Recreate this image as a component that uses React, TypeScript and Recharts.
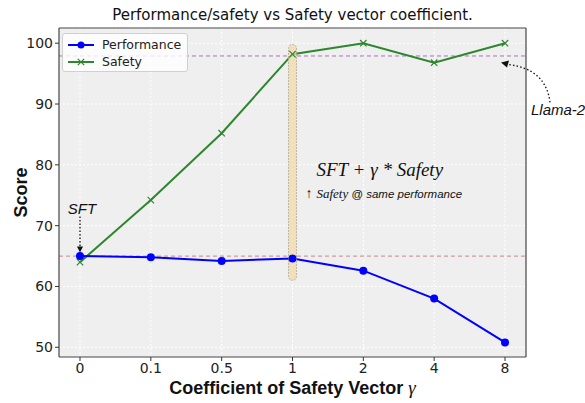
import {
  LineChart,
  Line,
  XAxis,
  YAxis,
  CartesianGrid,
  ReferenceLine,
  ReferenceDot,
} from 'recharts'

const coefficients = ['0', '0.1', '0.5', '1', '2', '4', '8']
const performance = [65.0, 64.8, 64.2, 64.6, 62.6, 58.0, 50.8]
const safety = [64.0, 74.2, 85.2, 98.2, 100.0, 96.8, 100.0]
const yTicks = [50, 60, 70, 80, 90, 100]

const sftScore = 65.0
const llamaScore = 97.9

const chartData = coefficients.map((c, i) => ({
  coef: c,
  performance: performance[i],
  safety: safety[i],
}))

const SANS = '"DejaVu Sans", sans-serif'
const HELV = '"Liberation Sans", Arial, sans-serif'
const SERIF = '"Liberation Serif", "DejaVu Serif", serif'

const XMarker = (props: any) => {
  const { cx, cy, stroke } = props
  if (cx == null || cy == null) return null
  const s = 3.2
  return (
    <g stroke={stroke} strokeWidth={1.2}>
      <line x1={cx - s} y1={cy - s} x2={cx + s} y2={cy + s} />
      <line x1={cx - s} y1={cy + s} x2={cx + s} y2={cy - s} />
    </g>
  )
}

const LegendBox = () => (
  <div
    style={{
      position: 'absolute',
      top: 33,
      left: 62,
      background: 'rgba(255,255,255,0.8)',
      border: '1px solid #d0d0d0',
      borderRadius: 3,
      padding: '2px 6px 1px 5px',
      fontFamily: SANS,
      fontSize: 12.5,
      color: '#222',
      lineHeight: '17px',
    }}
  >
    <div style={{ display: 'flex', alignItems: 'center' }}>
      <svg width={26} height={12} style={{ marginRight: 8 }}>
        <line x1={0} y1={6} x2={26} y2={6} stroke="#0000ff" strokeWidth={2} />
        <circle cx={13} cy={6} r={3.5} fill="#0000ff" />
      </svg>
      Performance
    </div>
    <div style={{ display: 'flex', alignItems: 'center' }}>
      <svg width={26} height={12} style={{ marginRight: 8 }}>
        <line x1={0} y1={6} x2={26} y2={6} stroke="#2e862e" strokeWidth={2} />
        <XMarker cx={13} cy={6} stroke="#2e862e" />
      </svg>
      Safety
    </div>
  </div>
)

const XAxisTitle = (props: any) => {
  const vb = props.viewBox || {}
  const cx = vb.x + vb.width / 2
  const y = vb.y + vb.height + 7
  return (
    <text x={cx} y={y} textAnchor="middle" fontSize={18} fill="#111">
      <tspan fontFamily={HELV} fontWeight="bold">Coefficient of Safety Vector </tspan>
      <tspan fontFamily={SERIF} fontStyle="italic" fontSize={19}>γ</tspan>
    </text>
  )
}

// shaded highlight around gamma = 1
const HighlightBar = (p: any) => {
  const top = Math.min(p.y1, p.y2)
  const h = Math.abs(p.y2 - p.y1)
  return (
    <rect
      x={p.x1 - 4}
      y={top}
      width={8}
      height={h}
      rx={4}
      fill="rgba(240,218,170,0.75)"
      stroke="#b0a898"
      strokeWidth={1}
      strokeDasharray="1.5 1.5"
    />
  )
}

const SftArrow = (p: any) => {
  const x = p.x1
  const yTop = Math.min(p.y1, p.y2)
  const yBot = Math.max(p.y1, p.y2)
  return (
    <g>
      <text x={x + 2} y={yTop - 3} textAnchor="middle" fontFamily={HELV} fontStyle="italic" fontSize={15} fill="#111">
        SFT
      </text>
      <line x1={x} y1={yTop} x2={x} y2={yBot - 5} stroke="#111" strokeWidth={1.3} strokeDasharray="1.5 2" />
      <path d={`M${x - 3},${yBot - 6} L${x + 3},${yBot - 6} L${x},${yBot} Z`} fill="#111" />
    </g>
  )
}

const LlamaArrow = (p: any) => {
  const hx = p.x1 - 4
  const hy = p.y1 + 4
  const tx = hx + 49
  const ty = hy + 40
  return (
    <g>
      <path
        d={`M${tx},${ty} Q${tx - 4},${hy + 6} ${hx + 6},${hy + 2}`}
        fill="none"
        stroke="#111"
        strokeWidth={1.3}
        strokeDasharray="1.5 2.2"
      />
      <path d={`M${hx},${hy} L${hx + 8},${hy - 2} L${hx + 6},${hy + 5} Z`} fill="#111" />
      <text x={tx - 19} y={ty + 13} fontFamily={HELV} fontStyle="italic" fontSize={15} fill="#111">
        Llama-2
      </text>
    </g>
  )
}

const FormulaNote = (p: any) => {
  const { cx, cy } = p
  return (
    <g>
      <text x={cx + 24} y={cy} fontFamily={SERIF} fontStyle="italic" fontSize={19} fill="#111">
        SFT + γ * Safety
      </text>
      <text x={cx + 13} y={cy + 22} fontSize={12} fill="#111">
        <tspan fontFamily={HELV} fontSize={14}>↑ </tspan>
        <tspan fontFamily={SERIF} fontStyle="italic" fontSize={13}>Safety</tspan>
        <tspan fontFamily={HELV} fontStyle="italic" fontSize={11.5}> @ same performance</tspan>
      </text>
    </g>
  )
}

export default function App() {
  return (
    <div style={{ position: 'absolute', left: 0, top: 0, width: 585, height: 403, background: '#fff' }}>
      <div
        style={{
          position: 'absolute',
          top: 6,
          left: 0,
          width: 585,
          textAlign: 'center',
          fontFamily: SANS,
          fontSize: 15,
          color: '#111',
        }}
      >
        Performance/safety vs Safety vector coefficient.
      </div>
      <LineChart
        width={585}
        height={403}
        data={chartData}
        margin={{ top: 27, right: 58, bottom: 16, left: 19 }}
      >
        <CartesianGrid fill="#efefef" stroke="#ffffff" strokeDasharray="2 2" strokeWidth={1} />
        <XAxis
          dataKey="coef"
          padding={{ left: 21, right: 21 }}
          height={30}
          tickSize={4}
          tick={{ fill: '#222', fontSize: 14, fontFamily: SANS }}
          tickLine={{ stroke: '#333' }}
          axisLine={{ stroke: '#444', strokeWidth: 1.2 }}
          label={(props: any) => <XAxisTitle {...props} />}
        />
        <XAxis
          xAxisId="top"
          dataKey="coef"
          orientation="top"
          height={1}
          padding={{ left: 21, right: 21 }}
          tick={false}
          tickLine={false}
          axisLine={{ stroke: '#444', strokeWidth: 1.2 }}
        />
        <YAxis
          domain={[48.4, 102.5]}
          ticks={yTicks}
          allowDataOverflow
          width={40}
          tickSize={4}
          tick={{ fill: '#222', fontSize: 14, fontFamily: SANS }}
          tickLine={{ stroke: '#333' }}
          axisLine={{ stroke: '#444', strokeWidth: 1.2 }}
          label={{
            value: 'Score',
            angle: -90,
            position: 'insideLeft',
            dx: -3,
            style: { fontFamily: HELV, fontWeight: 'bold', fontSize: 18, fill: '#111', textAnchor: 'middle' },
          }}
        />
        <YAxis
          yAxisId="right"
          orientation="right"
          width={1}
          domain={[48.4, 102.5]}
          tick={false}
          tickLine={false}
          axisLine={{ stroke: '#444', strokeWidth: 1.2 }}
        />
        <ReferenceLine y={llamaScore} stroke="#a872bf" strokeDasharray="4 3" strokeWidth={1} />
        <ReferenceLine y={sftScore} stroke="#d49a9a" strokeDasharray="4 3" strokeWidth={1.2} />
        <Line
          type="linear"
          dataKey="safety"
          stroke="#2e862e"
          strokeWidth={2}
          dot={<XMarker stroke="#2e862e" />}
          isAnimationActive={false}
        />
        <Line
          type="linear"
          dataKey="performance"
          stroke="#0000ff"
          strokeWidth={2}
          dot={{ r: 4, fill: '#0000ff', stroke: '#0000ff', strokeWidth: 0 }}
          isAnimationActive={false}
        />
        <ReferenceLine
          segment={[{ x: '1', y: 61.0 }, { x: '1', y: 99.8 }]}
          shape={<HighlightBar />}
        />
        <ReferenceLine
          segment={[{ x: '0', y: 71.5 }, { x: '0', y: 65.6 }]}
          shape={<SftArrow />}
        />
        <ReferenceLine
          segment={[{ x: '8', y: 97.5 }, { x: '8', y: 97.5 }]}
          shape={<LlamaArrow />}
          ifOverflow="visible"
        />
        <ReferenceDot x="1" y={78.2} r={0} shape={<FormulaNote />} ifOverflow="visible" />
      </LineChart>
      <LegendBox />
    </div>
  )
}
